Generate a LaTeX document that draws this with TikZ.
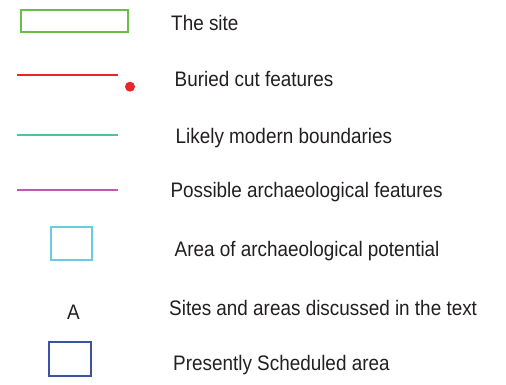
\documentclass[tikz,border=0pt]{standalone}
\usepackage{fontspec}
\newfontfamily\lab[FakeStretch=0.9]{Liberation Sans}
\definecolor{sitegreen}{HTML}{6ABD45}
\definecolor{cutred}{HTML}{E8262B}
\definecolor{modteal}{HTML}{4DC4A0}
\definecolor{archmag}{HTML}{C657B0}
\definecolor{potcyan}{HTML}{6DCBE0}
\definecolor{schedblue}{HTML}{3A53A4}
\definecolor{txt}{HTML}{231F20}
\begin{document}
\begin{tikzpicture}[x=1pt,y=-1pt,
  lbl/.style={anchor=base west,inner sep=0pt,text=txt,font=\lab\fontsize{21}{24}\selectfont},
  keyline/.style={line width=2pt},
  keybox/.style={line width=2.3pt}]
\useasboundingbox (0,0) rectangle (506,385);
% keys
\draw[keybox,sitegreen] (20.7,10) rectangle (128.3,31.7);
\draw[keyline,cutred] (17.3,75.3) coordinate (r1) -- (118.3,75.3) coordinate (r2);
\fill[cutred] (130,86.7) circle (5);
\draw[keyline,modteal] (17.3,135.3) coordinate (t1) -- (118.3,135.3) coordinate (t2);
\draw[keyline,archmag] (17.3,190.3) coordinate (m1) -- (118.3,190.3) coordinate (m2);
\draw[keybox,potcyan] (51,226.7) rectangle (92,260);
\node[anchor=base,inner sep=0pt,text=txt,font=\lab\fontsize{21}{24}\selectfont] (a) at (73.5,319) {A};
\draw[keybox,schedblue] (49,341.7) rectangle (91,376);
% labels
\node[lbl] (l1) at (171,30.5) {The site};
\node[lbl] (l2) at (174.5,86.5) {Buried cut features};
\node[lbl] (l3) at (175.5,143.3) {Likely modern boundaries};
\node[lbl] (l4) at (170.3,197.3) {Possible archaeological features};
\node[lbl] (l5) at (174.5,256.7) {Area of archaeological potential};
\node[lbl] (l6) at (169,315) {Sites and areas discussed in the text};
\node[lbl] (l7) at (173,370.7) {Presently Scheduled area};
\end{tikzpicture}
\end{document}
